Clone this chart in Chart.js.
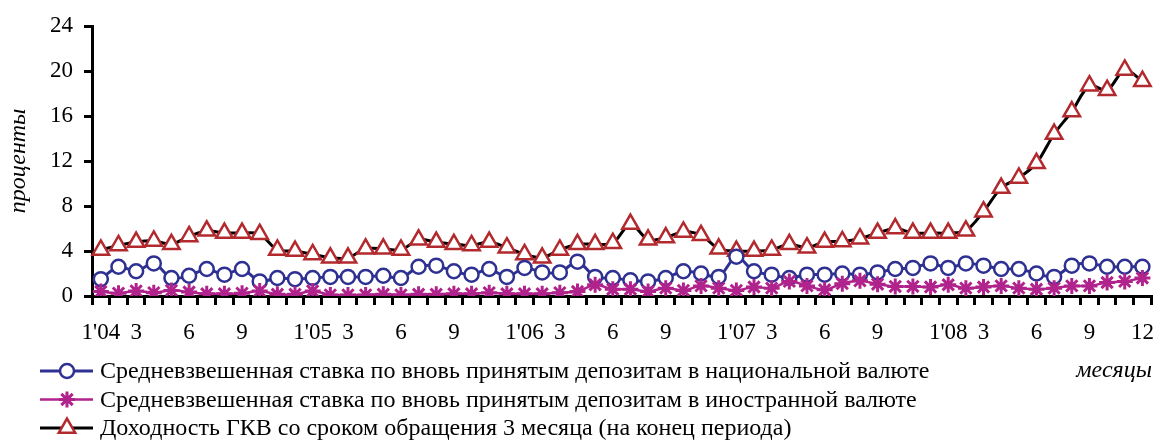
<!DOCTYPE html>
<html>
<head>
<meta charset="utf-8">
<script src="https://cdn.jsdelivr.net/npm/chart.js@4/dist/chart.umd.min.js"></script>
<style>
html,body{margin:0;padding:0;background:#fff;}
#wrap{position:relative;width:1168px;height:441px;}
</style>
</head>
<body>
<div id="wrap"><canvas id="c" width="1168" height="441"></canvas></div>
<script>
const categories = [
  "01'04","02'04","03'04","04'04","05'04","06'04","07'04","08'04","09'04","10'04","11'04","12'04",
  "01'05","02'05","03'05","04'05","05'05","06'05","07'05","08'05","09'05","10'05","11'05","12'05",
  "01'06","02'06","03'06","04'06","05'06","06'06","07'06","08'06","09'06","10'06","11'06","12'06",
  "01'07","02'07","03'07","04'07","05'07","06'07","07'07","08'07","09'07","10'07","11'07","12'07",
  "01'08","02'08","03'08","04'08","05'08","06'08","07'08","08'08","09'08","10'08","11'08","12'08"
];
const tickLabels = [
  "1'04","","3","","","6","","","9","","","",
  "1'05","","3","","","6","","","9","","","",
  "1'06","","3","","","6","","","9","","","",
  "1'07","","3","","","6","","","9","","","",
  "1'08","","3","","","6","","","9","","","12"
];
const nationalRate = [
  1.5,2.6,2.2,2.9,1.6,1.8,2.4,1.9,2.4,1.3,1.6,1.5,
  1.6,1.7,1.7,1.7,1.8,1.6,2.6,2.7,2.2,1.9,2.4,1.7,
  2.5,2.1,2.1,3.05,1.7,1.6,1.4,1.3,1.6,2.2,2.0,1.7,
  3.5,2.2,1.9,1.6,1.9,1.9,2.0,1.9,2.1,2.4,2.5,2.9,
  2.5,2.9,2.7,2.4,2.4,2.0,1.7,2.7,2.9,2.6,2.6,2.6
];
const foreignRate = [
  0.4,0.25,0.45,0.3,0.5,0.35,0.2,0.2,0.25,0.45,0.15,0.15,
  0.45,0.1,0.1,0.1,0.15,0.1,0.15,0.15,0.2,0.2,0.3,0.2,
  0.2,0.2,0.3,0.4,1.0,0.6,0.6,0.4,0.7,0.5,0.9,0.7,
  0.5,0.8,0.7,1.3,0.9,0.55,1.1,1.35,1.05,0.85,0.85,0.8,
  1.0,0.7,0.8,0.9,0.7,0.6,0.7,0.9,0.9,1.2,1.3,1.6
];
const gkvYield = [
  4.1,4.5,4.8,4.9,4.6,5.3,5.8,5.6,5.6,5.5,4.1,4.0,
  3.7,3.4,3.4,4.2,4.2,4.1,5.0,4.8,4.6,4.5,4.8,4.3,
  3.7,3.4,4.1,4.6,4.6,4.7,6.4,5.0,5.2,5.7,5.4,4.2,
  4.0,4.0,4.1,4.6,4.3,4.8,4.85,5.1,5.6,6.0,5.6,5.6,
  5.6,5.8,7.5,9.6,10.5,11.8,14.4,16.4,18.7,18.3,20.1,19.1
];
const seriesNames = [
  "Средневзвешенная ставка по вновь принятым депозитам в национальной валюте",
  "Средневзвешенная ставка по вновь принятым депозитам в иностранной валюте",
  "Доходность ГКВ со сроком обращения 3 месяца (на конец периода)"
];
const yAxisTitle = "проценты";
const xAxisTitle = "месяцы";

const FONT = "'Liberation Serif', 'Times New Roman', serif";

const legendPlugin = {
  id: 'legendRows',
  afterDraw(chart) {
    const ctx = chart.ctx;
    ctx.save();
    const y0 = 371, step = 28.5;
    chart.data.datasets.forEach((ds, k) => {
      const y = y0 + k * step;
      ctx.beginPath();
      ctx.strokeStyle = ds.borderColor;
      ctx.lineWidth = ds.borderWidth;
      ctx.moveTo(40, y);
      ctx.lineTo(93, y);
      ctx.stroke();
      ctx.fillStyle = ds.pointBackgroundColor;
      ctx.strokeStyle = ds.pointBorderColor;
      ctx.lineWidth = ds.pointBorderWidth;
      Chart.helpers.drawPoint(ctx, {pointStyle: ds.pointStyle, radius: ds.pointRadius, borderWidth: ds.pointBorderWidth, rotation: 0}, 67, y);
      ctx.fillStyle = '#000';
      ctx.font = "24px " + FONT;
      ctx.textAlign = 'left';
      ctx.textBaseline = 'middle';
      ctx.fillText(ds.label, 100, y + 1);
    });
    ctx.font = "italic 24px " + FONT;
    ctx.textAlign = 'right';
    ctx.textBaseline = 'middle';
    ctx.fillStyle = '#000';
    ctx.fillText(xAxisTitle, 1152, 371);
    ctx.restore();
  }
};

new Chart(document.getElementById('c'), {
  type: 'line',
  data: {
    labels: categories,
    datasets: [
      {
        label: seriesNames[0], data: nationalRate, order: 1,
        borderColor: '#2e3192', borderWidth: 3,
        pointStyle: 'circle', pointRadius: 7, pointBorderWidth: 2.5,
        pointBorderColor: '#2e3192', pointBackgroundColor: '#ffffff',
        tension: 0.3, fill: false
      },
      {
        label: seriesNames[1], data: foreignRate, order: 0,
        borderColor: '#b0228c', borderWidth: 2.5,
        pointStyle: 'star', pointRadius: 8, pointBorderWidth: 3,
        pointBorderColor: '#b0228c', pointBackgroundColor: '#b0228c',
        tension: 0.3, fill: false
      },
      {
        label: seriesNames[2], data: gkvYield, order: 2,
        borderColor: '#000000', borderWidth: 3,
        pointStyle: 'triangle', pointRadius: 9.5, pointBorderWidth: 2.5,
        pointBorderColor: '#b2292e', pointBackgroundColor: '#ffffff',
        tension: 0.3, fill: false
      }
    ]
  },
  options: {
    responsive: false,
    animation: false,
    devicePixelRatio: 1,
    layout: { padding: { top: 26, right: 5, bottom: 100, left: 0 } },
    plugins: { legend: { display: false }, tooltip: { enabled: false } },
    scales: {
      x: {
        type: 'category',
        offset: true,
        grid: { offset: true, drawOnChartArea: false, drawTicks: true, tickLength: 9, color: '#000', lineWidth: 3 },
        border: { color: '#000', width: 3 },
        ticks: {
          autoSkip: false, maxRotation: 0, minRotation: 0, padding: 14,
          color: '#000', font: { family: FONT, size: 23 },
          callback: (v, i) => tickLabels[i]
        },
        afterFit: s => { s.height = 45; }
      },
      y: {
        min: 0, max: 24,
        grid: { drawOnChartArea: false, drawTicks: true, tickLength: 8, color: '#000', lineWidth: 3 },
        border: { color: '#000', width: 3 },
        ticks: { stepSize: 4, padding: 11, color: '#000', font: { family: FONT, size: 23 } },
        title: { display: true, text: yAxisTitle, color: '#000', font: { family: FONT, size: 24, style: 'italic' }, padding: { top: 4, bottom: 0 } },
        afterFit: s => { s.width = 92; }
      }
    }
  },
  plugins: [legendPlugin]
});
</script>
</body>
</html>
